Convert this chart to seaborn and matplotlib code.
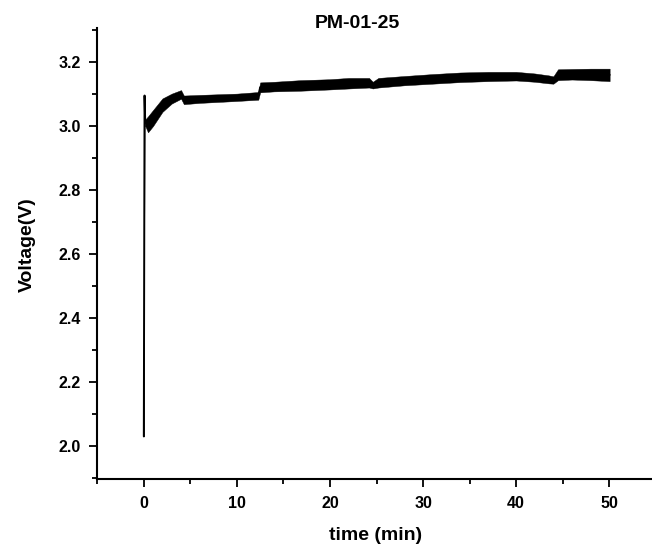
import pandas as pd
import matplotlib
matplotlib.use('Agg')
import matplotlib.pyplot as plt
import seaborn as sns
from matplotlib.ticker import MultipleLocator, FormatStrFormatter

# Voltage trace: lower / upper edge of the noisy band
time = [0.0, 0.08, 0.15, 0.45, 1.0, 2.0, 3.0, 4.0, 4.3, 6.0, 8.0, 10.0,
        12.3, 12.5, 14.0, 16.8, 20.0, 22.0, 24.2, 24.6, 25.2, 28.0, 31.0,
        34.0, 37.0, 40.0, 42.0, 43.5, 44.0, 44.5, 46.0, 48.0, 50.05]
v_low = [2.03, 3.095, 3.00, 2.98, 3.00, 3.044, 3.07, 3.085, 3.068, 3.072,
         3.075, 3.078, 3.082, 3.105, 3.108, 3.110, 3.114, 3.117, 3.120,
         3.117, 3.120, 3.127, 3.132, 3.137, 3.140, 3.142, 3.138, 3.133,
         3.132, 3.143, 3.145, 3.143, 3.140]
v_high = [2.03, 3.095, 3.02, 3.03, 3.05, 3.086, 3.101, 3.112, 3.095, 3.097,
          3.099, 3.101, 3.106, 3.136, 3.138, 3.143, 3.146, 3.150, 3.150,
          3.138, 3.150, 3.156, 3.162, 3.167, 3.169, 3.169, 3.164, 3.158,
          3.155, 3.177, 3.178, 3.179, 3.179]

title = 'PM-01-25'
x_label = 'time (min)'
y_label = 'Voltage(V)'

data = pd.DataFrame({
    'time': time + time,
    'voltage': v_low + v_high,
})

sns.set_style('ticks')
plt.rcParams['font.family'] = ['Liberation Sans', 'DejaVu Sans']
plt.rcParams['font.weight'] = 'bold'
for key in ['text.color', 'axes.labelcolor', 'xtick.color', 'ytick.color',
            'axes.edgecolor']:
    plt.rcParams[key] = 'black'

fig = plt.figure(figsize=(6.52, 5.51), dpi=100)
ax = fig.add_axes([97 / 652, 72 / 551, 555 / 652, 451 / 551])

# min-max band gives the thick noisy trace, mean line gives the thin spike
sns.lineplot(data=data, x='time', y='voltage', ax=ax, color='black',
             linewidth=1.4, errorbar=('pi', 100), estimator='mean',
             err_kws={'alpha': 1, 'edgecolor': 'black', 'linewidth': 0.3})

ax.set_xlim(-5.03, 54.6)
ax.set_ylim(1.897, 3.306)
ax.xaxis.set_major_locator(MultipleLocator(10))
ax.xaxis.set_minor_locator(MultipleLocator(5))
ax.yaxis.set_major_locator(MultipleLocator(0.2))
ax.yaxis.set_minor_locator(MultipleLocator(0.1))
ax.yaxis.set_major_formatter(FormatStrFormatter('%.1f'))

for side in ['top', 'right']:
    ax.spines[side].set_visible(False)
for side in ['left', 'bottom']:
    ax.spines[side].set_linewidth(1.5)

ax.tick_params(which='major', direction='out', length=6, width=1.3,
               labelsize=11.5)
ax.tick_params(axis='x', which='major', pad=6.5)
ax.tick_params(axis='y', which='major', pad=5.5)
ax.tick_params(which='minor', direction='out', length=3.5, width=1.3)
for lbl in ax.get_xticklabels() + ax.get_yticklabels():
    lbl.set_fontweight('bold')

ax.set_xlabel(x_label, fontsize=14, fontweight='bold')
ax.set_ylabel(y_label, fontsize=14, fontweight='bold')
ax.xaxis.set_label_coords((376 - 97) / 555, -(527 - 479) / 451)
ax.yaxis.set_label_coords(-(97 - 36) / 555, (479 - 245) / 451)

fig.text(357 / 652, 1 - 24 / 551, title, ha='center', va='center',
         fontsize=14, fontweight='bold')

fig.savefig('out.png', dpi=100)
